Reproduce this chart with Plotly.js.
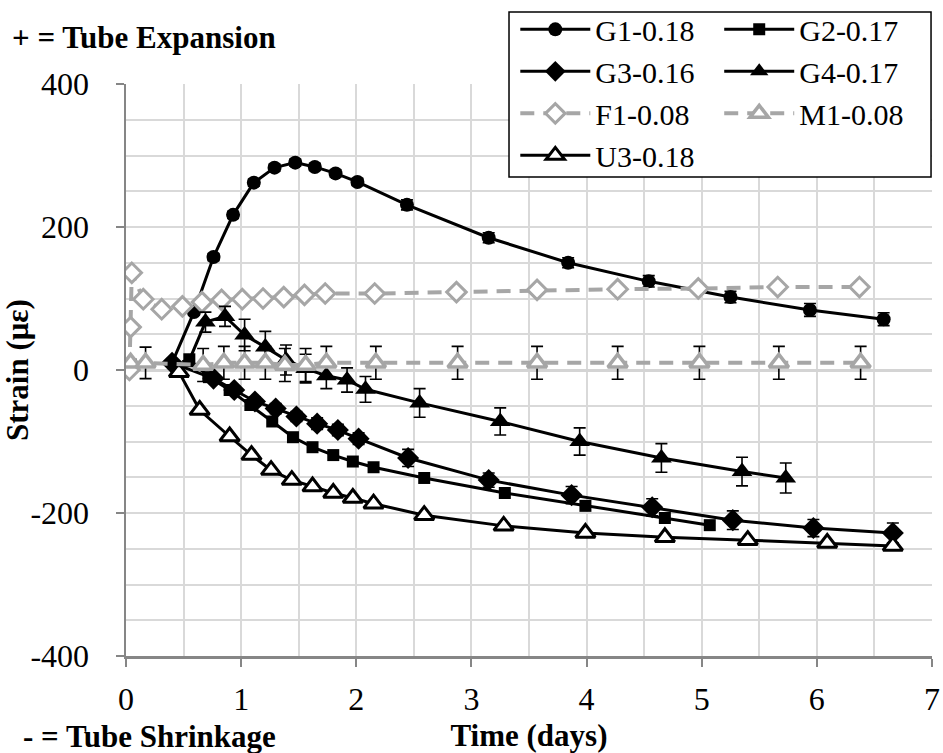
<!DOCTYPE html>
<html>
<head>
<meta charset="utf-8">
<script src="https://cdn.plot.ly/plotly-3.0.1.min.js"></script>
<style>
html,body{margin:0;padding:0;background:#fff;}
#chart{width:943px;height:753px;}
</style>
</head>
<body>
<div id="chart"></div>
<script>
// ---- data ----
const seriesNames = ['G1-0.18','G2-0.17','G3-0.16','G4-0.17','F1-0.08','M1-0.08','U3-0.18'];

const g1X = [0.40, 0.59, 0.76, 0.93, 1.11, 1.29, 1.47, 1.64, 1.82, 2.01, 2.44, 3.15, 3.84, 4.54, 5.25, 5.94, 6.58];
const g1Y = [10, 81, 158, 217, 262, 283, 290, 284, 275, 263, 231, 185, 150, 124, 102, 84, 71];
const g1Err = [3, 4, 5, 5, 5, 5, 5, 5, 5, 5, 7, 7, 7, 8, 8, 9, 9];

const g2X = [0.55, 0.72, 0.90, 1.08, 1.27, 1.45, 1.62, 1.80, 1.97, 2.15, 2.59, 3.29, 3.99, 4.68, 5.07];
const g2Y = [15, -10, -28, -49, -72, -94, -108, -119, -128, -136, -151, -172, -190, -207, -217];

const g3X = [0.40, 0.76, 0.94, 1.12, 1.30, 1.48, 1.66, 1.84, 2.02, 2.45, 3.15, 3.87, 4.57, 5.27, 5.97, 6.66];
const g3Y = [10, -12, -28, -44, -54, -65, -75, -84, -96, -123, -154, -175, -192, -210, -221, -228];
const g3Err = [3, 5, 6, 6, 7, 7, 8, 8, 8, 12, 10, 12, 12, 13, 12, 14];

const g4X = [0.54, 0.69, 0.86, 1.03, 1.21, 1.39, 1.56, 1.74, 1.92, 2.08, 2.55, 3.25, 3.94, 4.65, 5.35, 5.73];
const g4Y = [10, 67, 75, 49, 32, 14, 2, -8, -14, -27, -46, -72, -100, -123, -142, -151];
const g4Err = [3, 14, 14, 22, 22, 21, 20, 18, 17, 18, 20, 19, 19, 20, 20, 21];

const f1X = [0.03, 0.04, 0.05, 0.15, 0.31, 0.49, 0.66, 0.83, 1.01, 1.19, 1.37, 1.55, 1.73, 2.16, 2.87, 3.57, 4.27, 4.97, 5.66, 6.37];
const f1Y = [0, 60, 136, 99, 85, 89, 95, 98, 99, 100, 102, 105, 107, 107, 109, 112, 113, 114, 116, 116];

const m1X = [0.04, 0.17, 0.67, 0.85, 1.03, 1.21, 1.38, 1.56, 1.74, 2.17, 2.88, 3.57, 4.27, 4.98, 5.67, 6.38];
const m1Y = [10, 10, 7, 10, 10, 10, 7, 7, 10, 10, 10, 10, 10, 10, 10, 10];
const m1Err = [5, 22, 23, 23, 23, 23, 23, 23, 23, 23, 23, 23, 23, 23, 23, 23];

const u3X = [0.46, 0.64, 0.90, 1.09, 1.26, 1.44, 1.62, 1.80, 1.97, 2.15, 2.59, 3.28, 3.99, 4.68, 5.40, 6.09, 6.66];
const u3Y = [-3, -56, -93, -119, -140, -154, -163, -172, -179, -187, -203, -218, -228, -234, -238, -242, -246];

const xTickVals = [0, 1, 2, 3, 4, 5, 6, 7];
const yTickVals = [-400, -200, 0, 200, 400];

// ---- styling ----
const BLACK = '#000000';
const GREY = '#A6A6A6';
const FONT = 'Liberation Serif';
const errStyle = (arr) => ({type: 'data', array: arr, visible: true, color: BLACK, thickness: 1.6, width: 6});

const traces = [
  {name: seriesNames[0], x: g1X, y: g1Y, error_y: errStyle(g1Err), mode: 'lines+markers', legend: 'legend',
   line: {color: BLACK, width: 3}, marker: {symbol: 'circle', size: 14, color: BLACK}},
  {name: seriesNames[2], x: g3X, y: g3Y, error_y: errStyle(g3Err), mode: 'lines+markers', legend: 'legend',
   line: {color: BLACK, width: 3}, marker: {symbol: 'diamond', size: 17, color: BLACK}},
  {name: seriesNames[4], x: f1X, y: f1Y, mode: 'lines+markers', legend: 'legend',
   line: {color: GREY, width: 4, dash: '14px,9px'}, marker: {symbol: 'diamond', size: 15, color: '#FFFFFF', line: {color: GREY, width: 3}}},
  {name: seriesNames[6], x: u3X, y: u3Y, mode: 'lines+markers', legend: 'legend',
   line: {color: BLACK, width: 3}, marker: {symbol: 'triangle-up', size: 17, color: '#FFFFFF', line: {color: BLACK, width: 3}}},
  {name: seriesNames[1], x: g2X, y: g2Y, mode: 'lines+markers', legend: 'legend2',
   line: {color: BLACK, width: 3}, marker: {symbol: 'square', size: 12, color: BLACK}},
  {name: seriesNames[3], x: g4X, y: g4Y, error_y: errStyle(g4Err), mode: 'lines+markers', legend: 'legend2',
   line: {color: BLACK, width: 3}, marker: {symbol: 'triangle-up', size: 18, color: BLACK}},
  {name: seriesNames[5], x: m1X, y: m1Y, error_y: errStyle(m1Err), mode: 'lines+markers', legend: 'legend2',
   line: {color: GREY, width: 4, dash: '14px,9px'}, marker: {symbol: 'triangle-up', size: 17, color: '#FFFFFF', line: {color: GREY, width: 3.5}}}
];

const makeAxis = (extra) => Object.assign({
  showline: true, linecolor: '#868686', linewidth: 2.5,
  ticks: 'outside', ticklen: 8, tickwidth: 2, tickcolor: '#868686',
  showgrid: true, gridcolor: '#D9D9D9', gridwidth: 2,
  tickfont: {family: FONT, size: 32, color: BLACK},
  mirror: false, fixedrange: true, automargin: false
}, extra);

const makeLegend = (extra) => Object.assign({
  orientation: 'v', bgcolor: 'rgba(0,0,0,0)', borderwidth: 0,
  font: {family: FONT, size: 30, color: BLACK},
  xanchor: 'left', yanchor: 'top', tracegroupgap: 0, itemwidth: 70, itemclick: false
}, extra);

const layout = {
  width: 943, height: 753,
  margin: {l: 126, r: 11, t: 84, b: 97, autoexpand: false},
  paper_bgcolor: '#FFFFFF', plot_bgcolor: '#FFFFFF',
  showlegend: true,
  xaxis: makeAxis({
    range: [0, 7], tickvals: xTickVals, ticktext: xTickVals.map(String), zeroline: false,
    minor: {dtick: 0.5, showgrid: true, gridcolor: '#D9D9D9', gridwidth: 2, ticks: ''},
    ticklabelstandoff: 5,
    title: {text: '<b>Time (days)</b>', font: {family: FONT, size: 31, color: BLACK}, standoff: 12}
  }),
  yaxis: makeAxis({
    range: [-400, 400], tickvals: yTickVals, ticktext: yTickVals.map(String),
    zeroline: true, zerolinecolor: '#D4D4D4', zerolinewidth: 3,
    minor: {dtick: 50, showgrid: true, gridcolor: '#D9D9D9', gridwidth: 2, ticks: ''},
    ticklabelstandoff: 20,
    title: {text: '<b>Strain (με)</b>', font: {family: FONT, size: 31, color: BLACK}, standoff: 14}
  }),
  legend: makeLegend({x: 0.483, y: 1.141}),
  legend2: makeLegend({x: 0.736, y: 1.141}),
  shapes: [{
    type: 'rect', xref: 'paper', yref: 'paper', layer: 'above',
    x0: 0.4752, x1: 0.9988, y0: 0.8374, y1: 1.1259,
    fillcolor: '#FFFFFF', line: {color: BLACK, width: 1.5}
  }],
  annotations: [
    {text: '<b>+ = Tube Expansion</b>', xref: 'paper', yref: 'paper', x: -0.144, y: 1.082,
     xanchor: 'left', yanchor: 'middle', showarrow: false, font: {family: FONT, size: 31, color: BLACK}},
    {text: '<b>- = Tube Shrinkage</b>', xref: 'paper', yref: 'paper', x: -0.130, y: -0.140,
     xanchor: 'left', yanchor: 'middle', showarrow: false, font: {family: FONT, size: 31, color: BLACK}}
  ]
};

Plotly.newPlot('chart', traces, layout, {staticPlot: true, displayModeBar: false});
</script>
</body>
</html>
